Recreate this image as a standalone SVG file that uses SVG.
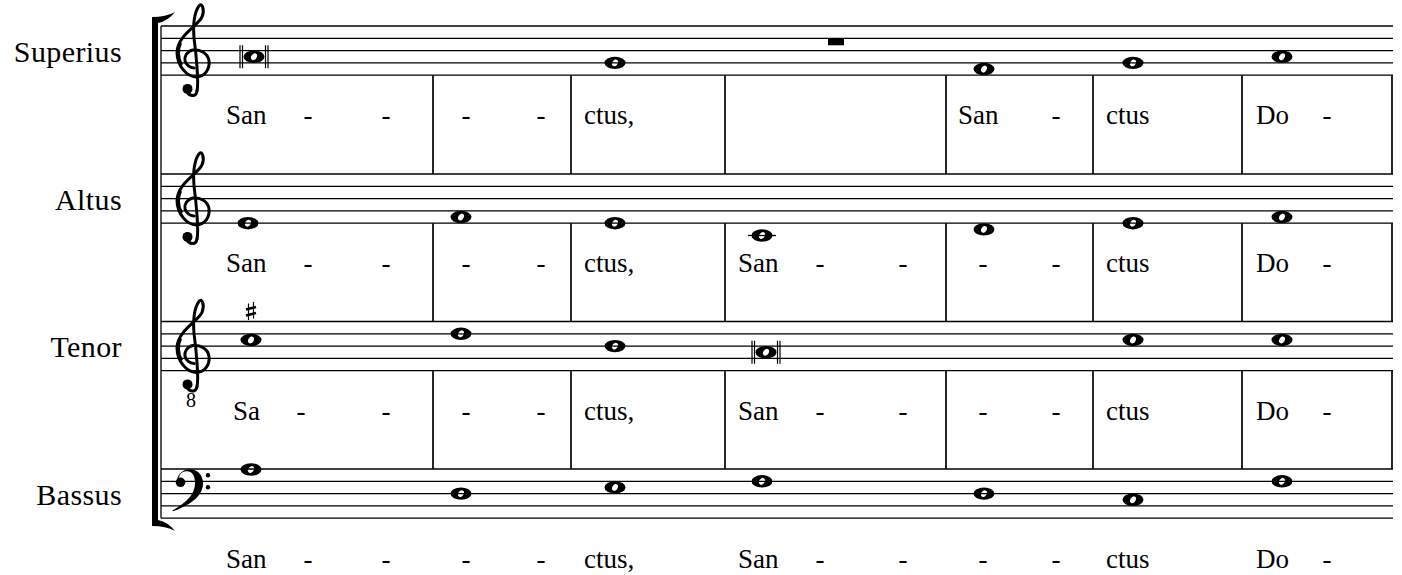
<svg xmlns="http://www.w3.org/2000/svg" xmlns:xlink="http://www.w3.org/1999/xlink" width="1402" height="575" viewBox="0 0 1402 575">
<style>
.staff line{stroke:#000;stroke-width:1.3}
.bar{stroke:#000;stroke-width:1.7}
.hy{text-anchor:middle}
.lbl{font-family:"Liberation Serif","Times New Roman",serif;font-size:30px;fill:#000;text-anchor:end;letter-spacing:0.4px}
.clef{fill:none;stroke:#000;stroke-width:3;stroke-linecap:round;stroke-linejoin:round}
.thin{stroke:#000;stroke-width:1.2}
</style>
<defs>
<path id="wn" fill-rule="evenodd" d="M-10.5,0 A10.5,6.2 0 1 0 10.5,0 A10.5,6.2 0 1 0 -10.5,0 Z M2,-2.9 A3.6,2.2 -55 1 0 -2,2.9 A3.6,2.2 -55 1 0 2,-2.9 Z"/>
<g id="breve">
<use xlink:href="#wn"/>
<line class="thin" x1="-14" y1="-11.5" x2="-14" y2="11.5"/>
<line class="thin" x1="-11.5" y1="-11.5" x2="-11.5" y2="11.5"/>
<line class="thin" x1="11.5" y1="-11.5" x2="11.5" y2="11.5"/>
<line class="thin" x1="14" y1="-11.5" x2="14" y2="11.5"/>
</g>
<g id="staff" class="staff">
<line x1="161" y1="0" x2="1393" y2="0"/>
<line x1="161" y1="12.3" x2="1393" y2="12.3"/>
<line x1="161" y1="24.6" x2="1393" y2="24.6"/>
<line x1="161" y1="36.9" x2="1393" y2="36.9"/>
<line x1="161" y1="49.2" x2="1393" y2="49.2"/>
</g>
<g id="treble">
<path class="clef" d="M4,28 C6,20 3,-10 1,-25 C0,-38 1,-50 6,-57 C9,-61 12,-53 9,-46 C5,-37 -15,-28 -16,-11 C-16,3 -6,14 3,14 C12,14 17,6 16,-2 C15,-10 6,-14 0,-13 C-6,-12 -9,-6 -8,-2 C-7,2 -3,5 1,5"/>
<path fill="none" stroke="#000" stroke-width="2.2" d="M-12,-20 C-15,-14 -15,-5 -11,2"/>
<path class="clef" d="M4,28 C3,34 -3,34 -6,29"/>
<circle cx="-5.5" cy="26" r="5"/>
</g>
<g id="bass">
<path d="M1,-1 C2,-8 8,-12 13,-12 C22,-12 27,-6 27,2 C27,15 14,24 -3,30 L-3.5,29 C10,22 19,13 19,2 C19,-6 16,-10 11,-10 C7,-10 4,-8 3,-4 Z"/>
<circle cx="4.5" cy="1" r="4.8"/>
<circle cx="32" cy="-6" r="2.2"/>
<circle cx="32" cy="6" r="2.2"/>
</g>
</defs>
<rect width="1402" height="575" fill="#fff"/>

<g id="system">
<path d="M152,22 L158,22 L158,521 L152,521 Z"/>
<path d="M152,23 L152,17 Q166,17 175,12 Q168,21 158,23 Z"/>
<path d="M152,520 L152,526 Q166,526 175,531 Q168,522 158,520 Z"/>
<line x1="161" y1="26" x2="161" y2="518.2" stroke="#000" stroke-width="1.3"/>
</g>

<g id="connectors">
<g class="bar">
<line x1="433" y1="75.2" x2="433" y2="174"/><line x1="571" y1="75.2" x2="571" y2="174"/><line x1="725" y1="75.2" x2="725" y2="174"/><line x1="946" y1="75.2" x2="946" y2="174"/><line x1="1093" y1="75.2" x2="1093" y2="174"/><line x1="1242" y1="75.2" x2="1242" y2="174"/><line x1="1392" y1="75.2" x2="1392" y2="174"/>
<line x1="433" y1="223.2" x2="433" y2="321.5"/><line x1="571" y1="223.2" x2="571" y2="321.5"/><line x1="725" y1="223.2" x2="725" y2="321.5"/><line x1="946" y1="223.2" x2="946" y2="321.5"/><line x1="1093" y1="223.2" x2="1093" y2="321.5"/><line x1="1242" y1="223.2" x2="1242" y2="321.5"/><line x1="1392" y1="223.2" x2="1392" y2="321.5"/>
<line x1="433" y1="370.7" x2="433" y2="469"/><line x1="571" y1="370.7" x2="571" y2="469"/><line x1="725" y1="370.7" x2="725" y2="469"/><line x1="946" y1="370.7" x2="946" y2="469"/><line x1="1093" y1="370.7" x2="1093" y2="469"/><line x1="1242" y1="370.7" x2="1242" y2="469"/><line x1="1392" y1="370.7" x2="1392" y2="469"/>
</g>
</g>

<g id="superius">
<text class="lbl" x="122" y="62">Superius</text>
<use xlink:href="#staff" y="26"/>
<use xlink:href="#treble" x="193" y="62.9"/>
<use xlink:href="#breve" x="254" y="56.75"/>
<use xlink:href="#wn" x="615" y="62.9"/>
<rect x="828" y="38.3" width="16" height="7"/>
<use xlink:href="#wn" x="984" y="69.05"/>
<use xlink:href="#wn" x="1133" y="62.9"/>
<use xlink:href="#wn" x="1282" y="56.75"/>
<g font-family="Liberation Serif, Times New Roman, serif" font-size="27" fill="#000">
<text x="226" y="124">San</text><text class="hy" x="308" y="124">-</text><text class="hy" x="386" y="124">-</text><text class="hy" x="466" y="124">-</text><text class="hy" x="541" y="124">-</text><text x="584" y="124">ctus,</text><text x="958" y="124">San</text><text class="hy" x="1056" y="124">-</text><text x="1106" y="124">ctus</text><text x="1256" y="124">Do</text><text class="hy" x="1327" y="124">-</text>
</g>
</g>

<g id="altus">
<text class="lbl" x="122" y="210">Altus</text>
<use xlink:href="#staff" y="174"/>
<use xlink:href="#treble" x="193" y="210.9"/>
<use xlink:href="#wn" x="248" y="223.2"/>
<use xlink:href="#wn" x="461" y="217.05"/>
<use xlink:href="#wn" x="615" y="223.2"/>
<line x1="748" y1="235.5" x2="776" y2="235.5" stroke="#000" stroke-width="1.3"/>
<use xlink:href="#wn" x="762" y="235.5"/>
<use xlink:href="#wn" x="984" y="229.35"/>
<use xlink:href="#wn" x="1133" y="223.2"/>
<use xlink:href="#wn" x="1282" y="217.05"/>
<g font-family="Liberation Serif, Times New Roman, serif" font-size="27" fill="#000">
<text x="226" y="272">San</text><text class="hy" x="308" y="272">-</text><text class="hy" x="386" y="272">-</text><text class="hy" x="466" y="272">-</text><text class="hy" x="541" y="272">-</text><text x="584" y="272">ctus,</text><text x="738" y="272">San</text><text class="hy" x="820" y="272">-</text><text class="hy" x="903" y="272">-</text><text class="hy" x="983" y="272">-</text><text class="hy" x="1056" y="272">-</text><text x="1106" y="272">ctus</text><text x="1256" y="272">Do</text><text class="hy" x="1327" y="272">-</text>
</g>
</g>

<g id="tenor">
<text class="lbl" x="122" y="357">Tenor</text>
<use xlink:href="#staff" y="321.5"/>
<use xlink:href="#treble" x="193" y="358.4"/>
<text x="191" y="407" font-family="Liberation Serif, serif" font-size="20" text-anchor="middle">8</text>
<g id="sharp">
<line x1="248.5" y1="303.5" x2="248.5" y2="320" stroke="#000" stroke-width="1.2"/>
<line x1="253.5" y1="302" x2="253.5" y2="318.5" stroke="#000" stroke-width="1.2"/>
<line x1="246" y1="309.5" x2="256" y2="307" stroke="#000" stroke-width="2.6"/>
<line x1="246" y1="315.5" x2="256" y2="313" stroke="#000" stroke-width="2.6"/>
</g>
<use xlink:href="#wn" x="251" y="339.95"/>
<use xlink:href="#wn" x="461" y="333.8"/>
<use xlink:href="#wn" x="615" y="346.1"/>
<use xlink:href="#breve" x="766" y="352.25"/>
<use xlink:href="#wn" x="1133" y="339.95"/>
<use xlink:href="#wn" x="1282" y="339.95"/>
<g font-family="Liberation Serif, Times New Roman, serif" font-size="27" fill="#000">
<text x="233" y="420">Sa</text><text class="hy" x="301" y="420">-</text><text class="hy" x="386" y="420">-</text><text class="hy" x="466" y="420">-</text><text class="hy" x="541" y="420">-</text><text x="584" y="420">ctus,</text><text x="738" y="420">San</text><text class="hy" x="820" y="420">-</text><text class="hy" x="903" y="420">-</text><text class="hy" x="983" y="420">-</text><text class="hy" x="1056" y="420">-</text><text x="1106" y="420">ctus</text><text x="1256" y="420">Do</text><text class="hy" x="1327" y="420">-</text>
</g>
</g>

<g id="bassus">
<text class="lbl" x="122" y="505">Bassus</text>
<use xlink:href="#staff" y="469"/>
<use xlink:href="#bass" x="176" y="481.3"/>
<use xlink:href="#wn" x="251" y="469.5"/>
<use xlink:href="#wn" x="461" y="493.6"/>
<use xlink:href="#wn" x="615" y="487.45"/>
<use xlink:href="#wn" x="762" y="481.3"/>
<use xlink:href="#wn" x="984" y="493.6"/>
<use xlink:href="#wn" x="1133" y="499.75"/>
<use xlink:href="#wn" x="1282" y="481.3"/>
<g font-family="Liberation Serif, Times New Roman, serif" font-size="27" fill="#000">
<text x="226" y="568">San</text><text class="hy" x="308" y="568">-</text><text class="hy" x="386" y="568">-</text><text class="hy" x="466" y="568">-</text><text class="hy" x="541" y="568">-</text><text x="584" y="568">ctus,</text><text x="738" y="568">San</text><text class="hy" x="820" y="568">-</text><text class="hy" x="903" y="568">-</text><text class="hy" x="983" y="568">-</text><text class="hy" x="1056" y="568">-</text><text x="1106" y="568">ctus</text><text x="1256" y="568">Do</text><text class="hy" x="1327" y="568">-</text>
</g>
</g>
</svg>
